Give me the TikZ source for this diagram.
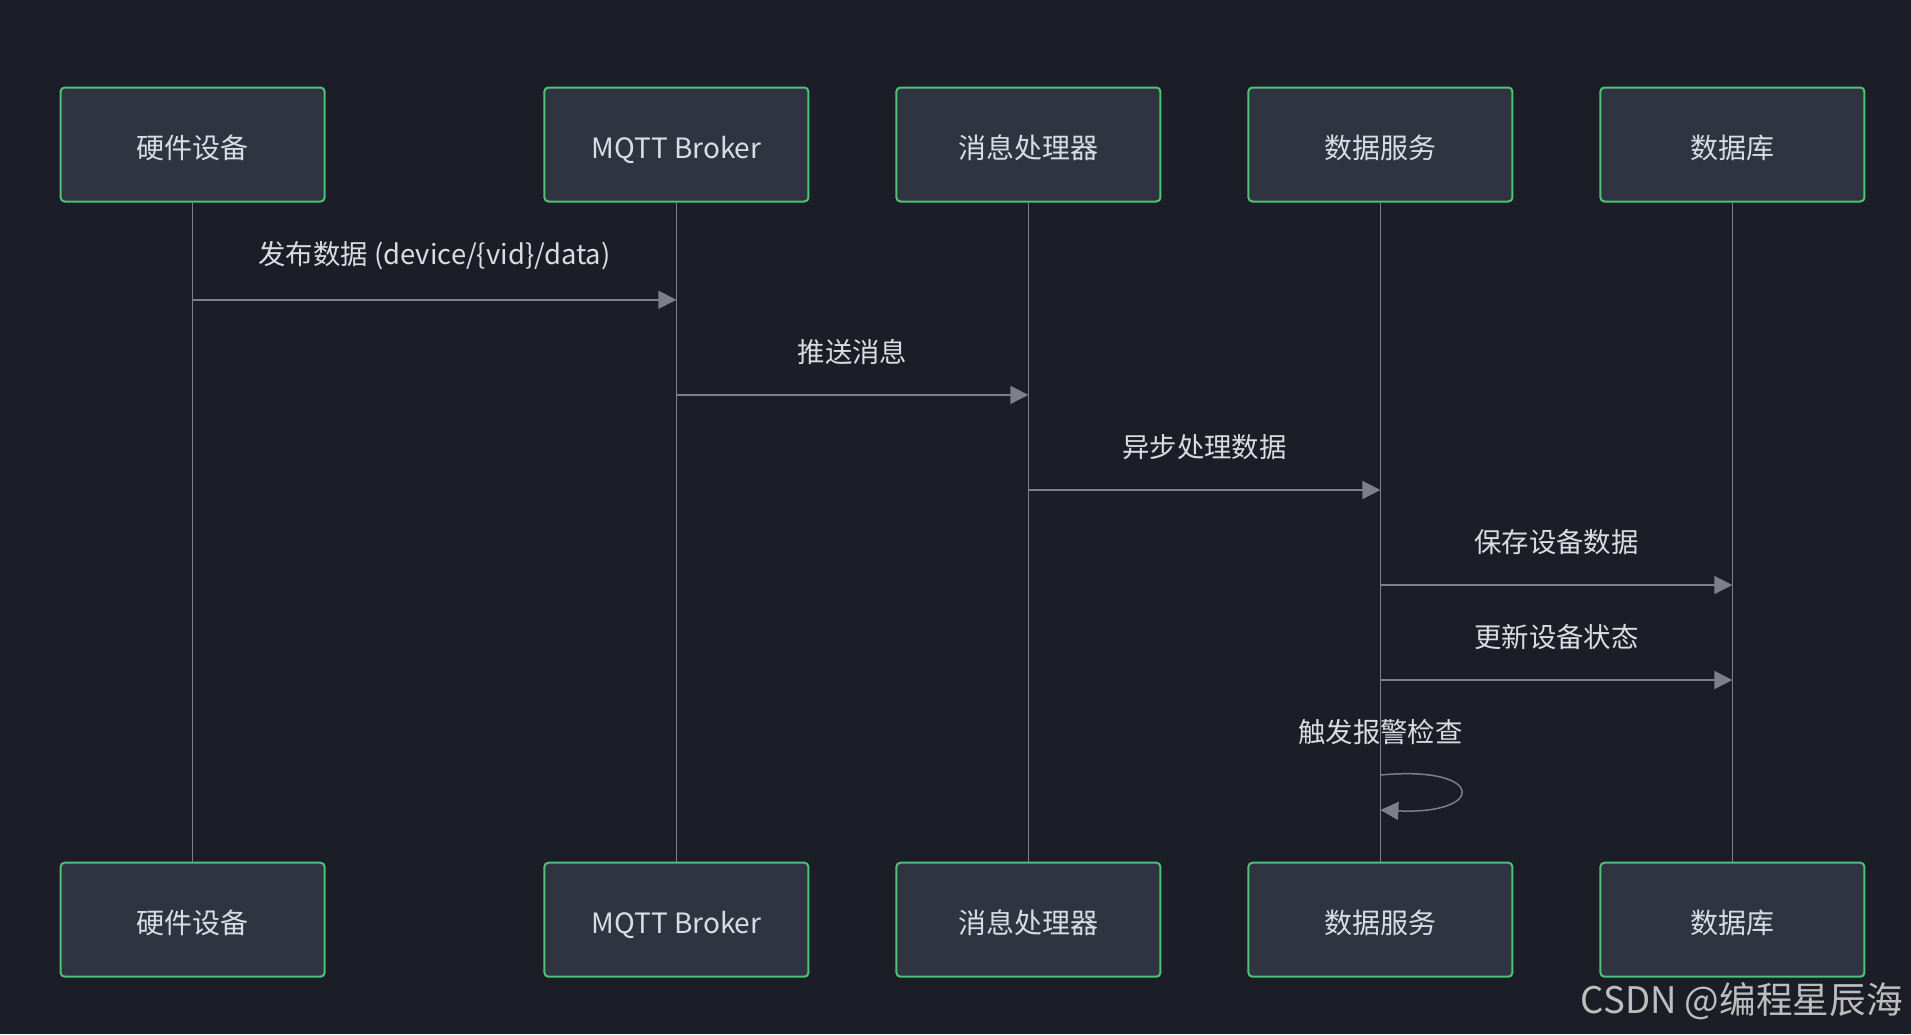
\documentclass[tikz,border=0pt]{standalone}
\usepackage{fontspec}
\setmainfont{Noto Sans CJK SC}
\usepackage{tikz}
\usetikzlibrary{arrows.meta,positioning,calc}
\definecolor{bgc}{HTML}{1B1E27}
\definecolor{boxfill}{HTML}{2F3440}
\definecolor{boxline}{HTML}{4CC27A}
\definecolor{txt}{HTML}{D9DCE2}
\definecolor{lifeln}{HTML}{7D808A}
\definecolor{wmark}{HTML}{BEBEBE}
\tikzset{
  actor/.style={draw=boxline,fill=boxfill,rounded corners=2pt,line width=1pt,minimum width=132pt,minimum height=57pt,inner sep=0pt,text height=14.2pt,text depth=0pt,text=txt,font=\fontsize{14}{16}\selectfont},
  life/.style={draw=lifeln,line width=0.75pt},
  msg/.style={draw=lifeln,line width=0.75pt,-{Triangle[length=9pt,width=9pt]}},
  mlbl/.style={text=txt,inner sep=0pt,anchor=base,font=\fontsize{13.7}{16}\selectfont},
}

\begin{document}
\begin{tikzpicture}[x=0.5pt,y=-0.5pt]
 \fill[bgc] (0,0) rectangle (1911,1034);
 \useasboundingbox (0,0) rectangle (1911,1034);
 % participants, top row
 \node[actor] (hw) at (192.6,144.5) {硬件设备};
 \node[actor,right=108.9pt of hw] (mq) {MQTT Broker};
 \node[actor,right=43pt of mq] (mp) {消息处理器};
 \node[actor,right=43pt of mp] (ds) {数据服务};
 \node[actor,right=43pt of ds] (db) {数据库};
 % participants, bottom row
 \node[actor,below=329.6pt of hw] (hwb) {硬件设备};
 \node[actor,below=329.6pt of mq] (mqb) {MQTT Broker};
 \node[actor,below=329.6pt of mp] (mpb) {消息处理器};
 \node[actor,below=329.6pt of ds] (dsb) {数据服务};
 \node[actor,below=329.6pt of db] (dbb) {数据库};
 \foreach \n in {hw,mq,mp,ds,db} \draw[life] (\n.south) -- (\n b.north);
 % messages
 \draw[msg] (hw.south |- 0,299.8) -- (mq.south |- 0,299.8) node[mlbl,midway,yshift=17.5pt] {发布数据 (device/\{vid\}/data)};
 \draw[msg] (mq.south |- 0,394.9) -- (mp.south |- 0,394.9) node[mlbl,midway,yshift=16.3pt] {推送消息};
 \draw[msg] (mp.south |- 0,490) -- (ds.south |- 0,490) node[mlbl,midway,yshift=16.3pt] {异步处理数据};
 \draw[msg] (ds.south |- 0,585) -- (db.south |- 0,585) node[mlbl,midway,yshift=16.3pt] {保存设备数据};
 \draw[msg] (ds.south |- 0,680) -- (db.south |- 0,680) node[mlbl,midway,yshift=16.3pt] {更新设备状态};
 \node[mlbl] (alarm) at (ds.south |- 0,742) {触发报警检查};
 \draw[msg] (ds.south |- 0,775) .. controls +(106,-10) and +(106,5) .. (ds.south |- 0,810);
 \node[anchor=base east,inner sep=0pt,text=wmark,font=\fontsize{18.3}{20}\selectfont] (wm) at (1903,1013) {CSDN @编程星辰海};
\end{tikzpicture}
\end{document}
